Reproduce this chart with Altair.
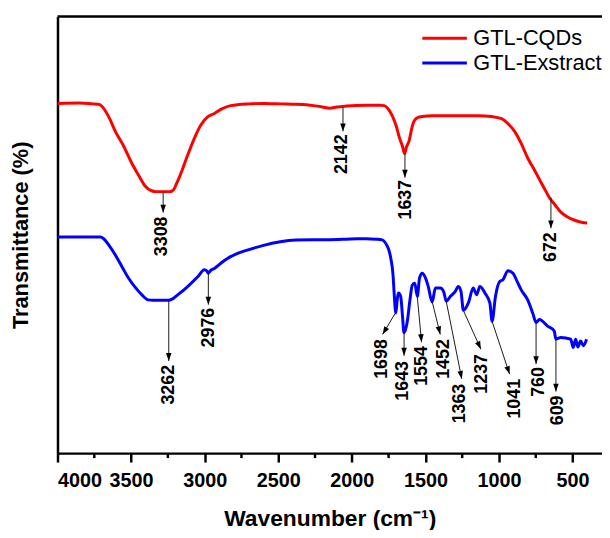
import math
import altair as alt
import pandas as pd

# ---------------- data ----------------
series_names = ["GTL-CQDs", "GTL-Exstract"]
series_colors = ["#ff0000", "#0000ff"]

cqd_wn = [4000, 3850, 3760, 3720, 3697, 3650, 3607, 3550, 3495, 3450, 3405, 3361, 3330, 3290, 3237,
          3210, 3193, 3150, 3114, 3070, 3025, 2980, 2934, 2880, 2823, 2700, 2598, 2480, 2374, 2260,
          2200, 2150, 2100, 2038, 1900, 1814, 1780, 1757, 1730, 1701, 1675, 1656, 1641, 1628, 1612,
          1590, 1578, 1550, 1522, 1450, 1365, 1250, 1141, 1050, 983, 940, 894, 850, 805, 760,
          714, 680, 659, 620, 580, 540, 490, 440, 401]
cqd_T = [80.1, 80.2, 80.0, 79.9, 79.4, 76.9, 73.7, 70.3, 66.4, 63.7, 61.2, 60.1, 59.9, 59.9, 59.9,
         60.4, 61.6, 65.1, 68.4, 72.1, 75.2, 77.0, 77.8, 78.9, 79.6, 80.0, 80.1, 80.0, 79.9, 79.6,
         79.3, 79.0, 79.3, 79.5, 79.7, 79.7, 79.6, 79.0, 77.6, 75.2, 72.1, 70.3, 68.6, 70.2, 71.4,
         74.8, 76.0, 76.9, 77.1, 77.3, 77.3, 77.3, 77.3, 77.1, 76.6, 75.5, 73.7, 71.0, 67.6, 64.9,
         62.0, 59.9, 58.6, 56.9, 55.2, 54.2, 53.4, 52.9, 52.7]

ext_wn = [4000, 3850, 3708, 3686, 3650, 3607, 3560, 3518, 3470, 3428,
          3383, 3350, 3300, 3249, 3215, 3181, 3114, 3047, 3002, 2985,
          2975, 2960, 2934, 2890, 2845, 2780, 2710, 2600, 2486, 2380,
          2262, 2150, 2038, 1960, 1903, 1836, 1790, 1769, 1750, 1735,
          1720, 1713, 1701, 1690, 1683, 1668, 1655, 1646, 1635, 1623,
          1605, 1589, 1572, 1555, 1540, 1522, 1499, 1481, 1454, 1432,
          1399, 1376, 1358, 1331, 1298, 1276, 1258, 1242, 1208, 1175,
          1152, 1130, 1096, 1062, 1047, 1024, 995, 973, 939, 905,
          876, 849, 805, 771, 748, 726, 670, 625, 613, 580,
          513, 495, 479, 464, 445, 427, 405]
ext_T = [49.5, 49.5, 49.5, 49.1, 47.6, 45.4, 42.6, 40.1, 37.9, 36.3,
         35.1, 35.0, 35.0, 35.0, 35.4, 36.3, 38.2, 40.4, 42.0, 41.7,
         41.2, 41.8, 42.3, 43.5, 44.6, 45.7, 46.5, 47.6, 48.4, 48.8,
         48.9, 48.9, 49.0, 49.1, 49.1, 49.0, 48.8, 48.0, 46.7, 44.6,
         40.8, 37.0, 32.1, 35.6, 36.7, 35.9, 31.1, 27.6, 28.3, 30.2,
         35.1, 38.5, 38.9, 35.9, 40.1, 41.2, 40.1, 38.2, 34.6, 37.8,
         37.8, 37.0, 34.8, 35.9, 37.0, 38.2, 37.0, 32.7, 34.4, 37.8,
         36.3, 38.2, 36.7, 34.4, 30.2, 35.9, 39.3, 39.7, 41.8, 41.2,
         39.3, 37.4, 35.1, 32.1, 29.9, 30.6, 29.1, 28.0, 26.1, 26.5,
         26.1, 24.2, 26.1, 24.3, 25.7, 24.6, 26.1]

# peak annotations: arrow from the curve to the tip, label below the tip
peak_labels = ["3308", "2142", "1637", "672", "3262", "2976", "1698", "1643",
               "1554", "1452", "1363", "1237", "1041", "760", "609"]
arrow_from_wn = [3282, 2060, 1639, 647, 3244, 2975, 1702, 1645, 1555, 1454, 1358, 1242, 1047, 748, 613]
arrow_from_T = [59.9, 79.2, 68.6, 58.5, 34.9, 41.2, 32.2, 27.6, 35.8, 34.7, 34.7, 32.7, 30.2, 29.9, 26.1]
arrow_to_wn = [3282, 2060, 1639, 647, 3244, 2975, 1791, 1645, 1526, 1399, 1253, 1123, 928, 748, 613]
arrow_to_T = [55.1, 73.7, 63.1, 51.5, 21.1, 34.0, 27.2, 22.3, 25.4, 27.2, 17.0, 23.8, 18.1, 20.4, 14.1]
label_wn = [3289, 2065, 1634, 647, 3242, 2973, 1798, 1654, 1522, 1376, 1264, 1114, 889, 731, 602]
label_T = [54.2, 73.0, 62.6, 50.6, 20.2, 33.3, 26.1, 21.1, 24.5, 26.1, 15.9, 22.7, 17.0, 19.7, 13.2]

major_ticks = [4000, 3500, 3000, 2500, 2000, 1500, 1000, 500]
minor_ticks = [3750, 3250, 2750, 2250, 1750, 1250, 750]

# ---------------- layout / style ----------------
W, H = 550, 441
X_DOMAIN = [4000, 300]
Y_DOMAIN = [0, 100]
FONT = "Liberation Sans"
ARROW_PATH = "M0,0L-0.35,-1L0.35,-1Z"

spectra = pd.DataFrame(
    [{"wn": w, "T": t, "sample": series_names[0]} for w, t in zip(cqd_wn, cqd_T)]
    + [{"wn": w, "T": t, "sample": series_names[1]} for w, t in zip(ext_wn, ext_T)]
)

px_w = W / (X_DOMAIN[0] - X_DOMAIN[1])
px_T = H / (Y_DOMAIN[1] - Y_DOMAIN[0])
angles = []
for fw, ft, tw, tt in zip(arrow_from_wn, arrow_from_T, arrow_to_wn, arrow_to_T):
    dx = -(tw - fw) * px_w
    dy = -(tt - ft) * px_T
    angles.append(math.degrees(math.atan2(-dx, dy)) % 360)

ann = pd.DataFrame({
    "label": peak_labels,
    "from_wn": arrow_from_wn, "from_T": arrow_from_T,
    "to_wn": arrow_to_wn, "to_T": arrow_to_T,
    "label_wn": label_wn, "label_T": label_T,
    "ang": angles,
})

x_scale = alt.Scale(domain=X_DOMAIN, nice=False, zero=False)
y_scale = alt.Scale(domain=Y_DOMAIN, nice=False, zero=False)
x_axis = alt.Axis(values=major_ticks, format="d", grid=False,
                  labelFontSize=20, labelFontWeight="bold", labelFont=FONT, labelColor="black",
                  tickSize=9, tickWidth=2.5, tickColor="black",
                  domainWidth=2.5, domainColor="black", labelPadding=9,
                  titleFontSize=23, titleFontWeight="bold", titleFont=FONT, titleColor="black",
                  titlePadding=17)
y_axis = alt.Axis(ticks=False, labels=False, grid=False,
                  domainWidth=2.5, domainColor="black",
                  titleFontSize=22, titleFontWeight="bold", titleFont=FONT, titleColor="black",
                  titlePadding=25)
X_TITLE = "Wavenumber (cm⁻¹)"
Y_TITLE = "Transmittance (%)"


def X(field):
    return alt.X(f"{field}:Q", scale=x_scale, axis=x_axis, title=X_TITLE)


def Y(field):
    return alt.Y(f"{field}:Q", scale=y_scale, axis=y_axis, title=Y_TITLE)


lines = alt.Chart(spectra).mark_line(strokeWidth=3, interpolate="monotone").encode(
    x=X("wn"),
    y=Y("T"),
    color=alt.Color("sample:N",
                    scale=alt.Scale(domain=series_names, range=series_colors),
                    legend=alt.Legend(title=None, orient="none", legendX=380, legendY=11,
                                      symbolType="M-2.5,0H2.5", symbolSize=324,
                                      symbolStrokeWidth=3, symbolOffset=0,
                                      labelFontSize=22, labelFont=FONT, labelColor="black",
                                      labelOffset=18, rowPadding=3, padding=0)),
    order=alt.Order("wn:Q", sort="descending"),
)

shafts = alt.Chart(ann).mark_rule(color="#1a1a1a", strokeWidth=1).encode(
    x=X("from_wn"), y=Y("from_T"), x2="to_wn:Q", y2="to_T:Q"
)

heads = alt.Chart(ann).mark_point(shape=ARROW_PATH, filled=True, size=256,
                                  color="black", opacity=1).encode(
    x=X("to_wn"), y=Y("to_T"), angle=alt.Angle("ang:Q", scale=None)
)

labels = alt.Chart(ann).mark_text(angle=270, align="right", baseline="middle",
                                  fontSize=18, fontWeight="bold", font=FONT,
                                  color="black").encode(
    x=X("label_wn"), y=Y("label_T"), text="label:N"
)

minor = alt.Chart(pd.DataFrame({"wn": minor_ticks})).mark_rule(
    color="black", strokeWidth=2.5).encode(
    x=X("wn"), y=alt.value(H), y2=alt.value(H + 5)
)

top_frame = alt.Chart(pd.DataFrame({"f": [0]})).mark_rule(
    color="black", strokeWidth=2.5).encode(
    x=alt.value(0), x2=alt.value(W), y=alt.value(0)
)

chart = alt.layer(lines, shafts, heads, labels, minor, top_frame).properties(
    width=W, height=H,
    autosize=alt.AutoSizeParams(type="none"),
    padding={"left": 50, "top": 6, "right": 0, "bottom": 75},
).configure_view(stroke=None).configure(background="white")

chart.save("out.html", embed_options={"renderer": "svg", "actions": False})
